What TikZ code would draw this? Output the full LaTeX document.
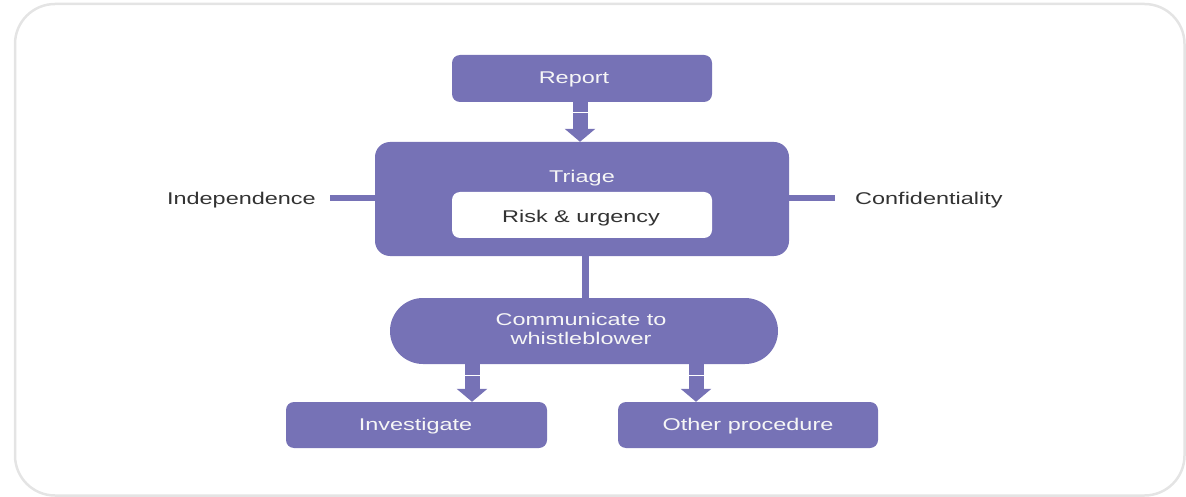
\documentclass[tikz,border=0pt]{standalone}
\usepackage{fontspec}
\setmainfont{Liberation Sans}[FakeStretch=1.38]
\usetikzlibrary{arrows.meta,calc}
\definecolor{lav}{HTML}{7672B6}
\definecolor{frame}{HTML}{E4E4E4}
\definecolor{ink}{HTML}{333333}
\definecolor{paper}{HTML}{F6F6F6}
\begin{document}
\begin{tikzpicture}[x=1pt,y=-1pt,
  every node/.style={font=\fontsize{17}{19}\selectfont, inner sep=0pt},
  box/.style={fill=lav, rounded corners=8pt},
  boxtext/.style={text=paper, anchor=base, align=center},
  label/.style={text=ink, anchor=base},
  link/.style={draw=lav, line width=6pt},
  blockarrow/.style={draw=lav, line width=15pt, -{Triangle[width=30pt,length=13pt]}},
  notch/.style={draw=white, line width=1.2pt}]
\useasboundingbox (0,0) rectangle (1186,497);
% outer card
\draw[frame, line width=2.5pt, rounded corners=40pt] (15,4) rectangle (1184.5,495.5);

% boxes
\node[box, minimum width=260pt, minimum height=47pt] (report) at (582,78.5) {};
\node[box, rounded corners=15pt, minimum width=414pt, minimum height=114pt] (triage) at (582,199) {};
\node[fill=white, rounded corners=8pt, minimum width=260pt, minimum height=46pt] (risk) at (582,215) {};
\node[box, rounded corners=33pt, minimum width=388pt, minimum height=66pt] (comm) at (584,331) {};
\node[box, minimum width=261pt, minimum height=46pt] (inv) at (416.5,425) {};
\node[box, minimum width=260pt, minimum height=46pt] (other) at (748,425) {};

% box texts, set on their baselines (a two-line node sits on its last line)
\node[boxtext] (reportlbl) at (574,83.3) {Report};
\node[boxtext] (triagelbl) at (582,182.7) {Triage};
\node[label] (risklbl) at (581,222.7) {Risk \& urgency};
\node[boxtext] (commlbl) at (581,344) {Communicate to\\whistleblower};
\node[boxtext] (invlbl) at (415.5,430) {Investigate};
\node[boxtext] (otherlbl) at (748,430) {Other procedure};

% side principles
\node[label, anchor=base east] (indep) at (316,205) {Independence};
\node[label, anchor=base west] (conf) at (855,205) {Confidentiality};
\coordinate (lstub) at (330,198);
\coordinate (rstub) at (835,198);
\draw[link] (lstub) -- (triage.west |- lstub);
\draw[link] (triage.east |- rstub) -- (rstub);

% flow connectors
\coordinate (vx) at (585,0);
\draw[link, line width=7pt] (triage.south -| vx) -- (comm.north -| vx);

\coordinate (ax0) at (580,0);
\coordinate (ax1) at (472,0);
\coordinate (ax2) at (696,0);
\draw[blockarrow] (report.south -| ax0) -- (triage.north -| ax0);
\draw[blockarrow] (comm.south -| ax1) -- (inv.north -| ax1);
\draw[blockarrow] (comm.south -| ax2) -- (other.north -| ax2);

% thin white breaks across the arrow stems
\path (report.south -| ax0) -- (triage.north -| ax0) coordinate[pos=0.26] (n0);
\path (comm.south -| ax1) -- (inv.north -| ax1) coordinate[pos=0.30] (n1);
\path (comm.south -| ax2) -- (other.north -| ax2) coordinate[pos=0.30] (n2);
\draw[notch] ([xshift=-8pt]n0) -- ([xshift=8pt]n0);
\draw[notch] ([xshift=-8pt]n1) -- ([xshift=8pt]n1);
\draw[notch] ([xshift=-8pt]n2) -- ([xshift=8pt]n2);
\end{tikzpicture}
\end{document}
